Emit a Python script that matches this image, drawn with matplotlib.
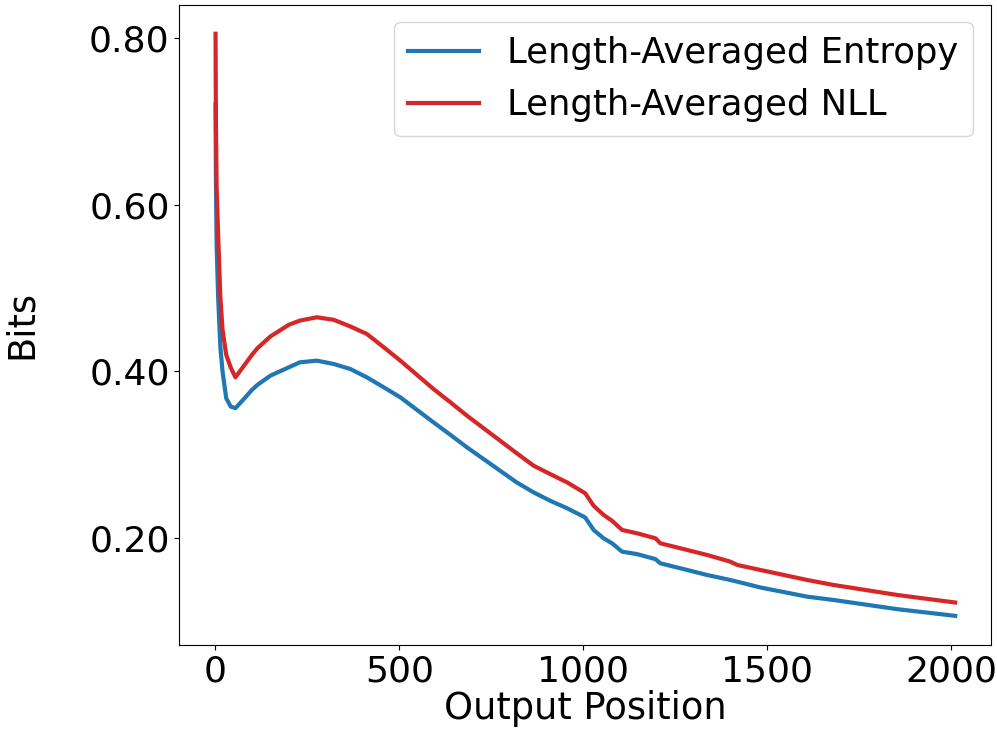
import numpy as np
import matplotlib
matplotlib.use("Agg")
import matplotlib.pyplot as plt
from matplotlib.ticker import FormatStrFormatter

# values
positions = [1, 2, 4, 8, 14, 20, 30, 42, 55, 80, 100, 115, 150, 200, 230, 276, 322,
             367, 412, 458, 503, 548, 593, 639, 684, 729, 774, 819, 865, 910, 956,
             1005, 1028, 1055, 1078, 1105, 1146, 1196, 1209, 1282, 1336, 1399, 1418,
             1481, 1608, 1680, 1853, 2010]
entropy = [0.72, 0.63, 0.55, 0.49, 0.43, 0.40, 0.368, 0.358, 0.356, 0.368, 0.378,
           0.384, 0.395, 0.405, 0.411, 0.413, 0.409, 0.403, 0.393, 0.381, 0.369,
           0.354, 0.339, 0.324, 0.309, 0.295, 0.281, 0.267, 0.255, 0.245, 0.236,
           0.225, 0.210, 0.200, 0.194, 0.184, 0.181, 0.175, 0.170, 0.162, 0.156,
           0.150, 0.148, 0.141, 0.130, 0.126, 0.115, 0.107]
nll = [0.805, 0.70, 0.62, 0.565, 0.49, 0.45, 0.42, 0.405, 0.393, 0.408, 0.42,
       0.428, 0.442, 0.456, 0.461, 0.465, 0.462, 0.454, 0.445, 0.429, 0.413,
       0.396, 0.379, 0.363, 0.347, 0.332, 0.317, 0.302, 0.287, 0.277, 0.267,
       0.254, 0.239, 0.228, 0.221, 0.210, 0.206, 0.200, 0.194, 0.186, 0.180,
       0.172, 0.168, 0.162, 0.150, 0.144, 0.132, 0.123]
series_labels = ["Length-Averaged Entropy", "Length-Averaged NLL"]

fig = plt.figure(figsize=(9.97, 7.31), dpi=100)
ax = fig.add_axes([0.18, 0.1176, 0.8135, 0.8762])

ax.plot(positions, entropy, color="tab:blue", linewidth=3, label=series_labels[0])
ax.plot(positions, nll, color="tab:red", linewidth=3, label=series_labels[1])

ax.set_xlim(-97, 2106)
ax.set_ylim(0.072, 0.840)
ax.set_xticks([0, 500, 1000, 1500, 2000])
ax.set_yticks([0.2, 0.4, 0.6, 0.8])
ax.yaxis.set_major_formatter(FormatStrFormatter("%.2f"))
ax.tick_params(labelsize=26)

ax.set_xlabel("Output Position", fontsize=26.5, labelpad=1)
ax.set_ylabel("Bits", fontsize=26.5)
ax.yaxis.set_label_coords(-0.172, 0.5)

ax.legend(fontsize=25.5, loc="upper right")

fig.savefig("out.png", dpi=100)
